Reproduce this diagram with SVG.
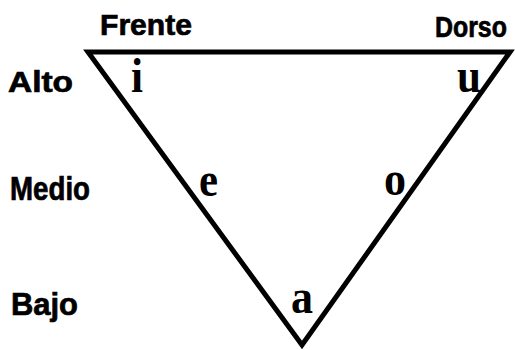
<svg xmlns="http://www.w3.org/2000/svg" width="515" height="350" viewBox="0 0 515 350">
  <style>
    .lbl { font-family: "Liberation Sans", Arial, sans-serif; font-weight: bold; fill: #000; stroke: #000; stroke-width: 0.7; }
    .vow { font-family: "Liberation Serif", "Times New Roman", serif; font-weight: bold; font-size: 49px; fill: #000; }
    .edge { fill: none; stroke: #000; stroke-width: 5; stroke-linejoin: miter; stroke-miterlimit: 10; }
  </style>
  <rect width="515" height="350" fill="#fff"/>
  <g id="connectors">
    <path class="edge" d="M 88 52 L 510 52 L 302 345 Z"/>
  </g>
  <g id="labels">
    <text class="lbl" x="100" y="35" font-size="30" textLength="92" lengthAdjust="spacingAndGlyphs">Frente</text>
    <text class="lbl" transform="translate(435,37) scale(0.83,1)" x="0" y="0" font-size="30">Dorso</text>
    <text class="lbl" x="8" y="92" font-size="29" textLength="65" lengthAdjust="spacingAndGlyphs">Alto</text>
    <text class="lbl" x="10" y="200" font-size="33" textLength="80" lengthAdjust="spacingAndGlyphs">Medio</text>
    <text class="lbl" x="11" y="315" font-size="31" textLength="67" lengthAdjust="spacingAndGlyphs">Bajo</text>
  </g>
  <g id="vowel-i"><text class="vow" x="131" y="92" textLength="12" lengthAdjust="spacingAndGlyphs">i</text></g>
  <g id="vowel-u"><text class="vow" x="457" y="92" textLength="24" lengthAdjust="spacingAndGlyphs">u</text></g>
  <g id="vowel-e"><text class="vow" x="199" y="196" textLength="19" lengthAdjust="spacingAndGlyphs">e</text></g>
  <g id="vowel-o"><text class="vow" x="384" y="195" textLength="22" lengthAdjust="spacingAndGlyphs">o</text></g>
  <g id="vowel-a"><text class="vow" x="291" y="313" textLength="22" lengthAdjust="spacingAndGlyphs">a</text></g>
</svg>
